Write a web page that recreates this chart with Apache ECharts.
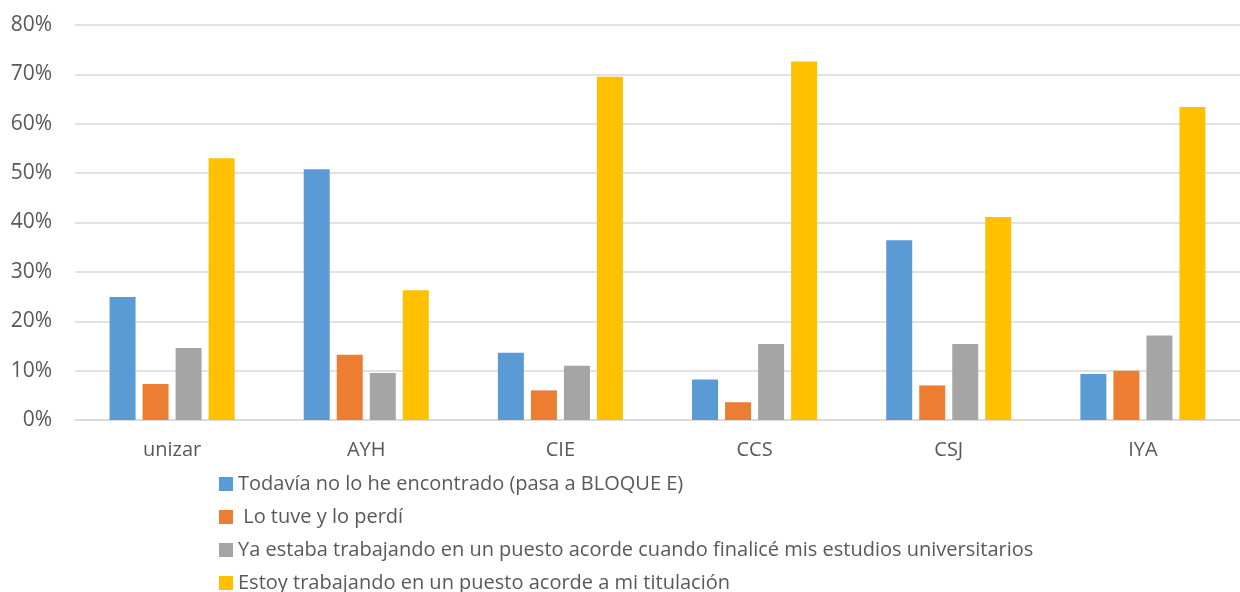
<!DOCTYPE html>
<html>
<head>
<meta charset="utf-8">
<script src="https://cdn.jsdelivr.net/npm/echarts@6/dist/echarts.min.js"></script>
<style>
  html, body { margin: 0; padding: 0; background: #fff; }
  #chart { width: 1240px; height: 592px; }
</style>
</head>
<body>
<div id="chart"></div>
<script>
  // categorías (centros)
  const categories = ['unizar', 'AYH', 'CIE', 'CCS', 'CSJ', 'IYA'];
  const yTicks = [0, 10, 20, 30, 40, 50, 60, 70, 80];

  // valores en %
  const todaviaNo = [24.9, 50.8, 13.6, 8.2, 36.4, 9.3];
  const loTuve = [7.3, 13.2, 6.0, 3.6, 7.0, 10.0];
  const yaEstaba = [14.6, 9.5, 11.0, 15.4, 15.4, 17.1];
  const estoyTrabajando = [53.0, 26.3, 69.5, 72.6, 41.1, 63.4];

  const seriesNames = [
    'Todavía no lo he encontrado (pasa a BLOQUE E)',
    ' Lo tuve y lo perdí',
    'Ya estaba trabajando en un puesto acorde cuando finalicé mis estudios universitarios',
    'Estoy trabajando en un puesto acorde a mi titulación'
  ];
  const seriesData = [todaviaNo, loTuve, yaEstaba, estoyTrabajando];
  const colors = ['#5b9bd5', '#ed7d31', '#a5a5a5', '#ffc000'];

  const txt = '#595959';
  const font = '"Open Sans", "DejaVu Sans", sans-serif';

  let series = [];
  seriesData.forEach((d, i) => {
    series.push({
      name: seriesNames[i],
      type: 'bar',
      data: d,
      barWidth: 26,
      barGap: '27%',
      itemStyle: { color: colors[i] }
    });
  });

  const myChart = echarts.init(document.getElementById('chart'));
  myChart.setOption({
    animation: false,
    color: colors,
    textStyle: { fontFamily: font },
    grid: { left: 75, right: 0, top: 25, bottom: 172 },
    legend: {
      orient: 'vertical',
      left: 219,
      top: 472,
      height: 130,
      itemWidth: 14,
      itemHeight: 14,
      itemGap: 9,
      icon: 'rect',
      selectedMode: false,
      padding: 0,
      textStyle: { color: txt, fontSize: 20, fontFamily: font, lineHeight: 24 },
      data: seriesNames
    },
    xAxis: {
      type: 'category',
      data: categories,
      axisLine: { lineStyle: { color: '#d9d9d9', width: 1.5 } },
      axisTick: { show: false },
      axisLabel: { color: txt, fontSize: 20, margin: 20, fontFamily: font }
    },
    yAxis: {
      type: 'value',
      min: yTicks[0],
      max: yTicks[yTicks.length - 1],
      interval: 10,
      axisLine: { show: false },
      axisTick: { show: false },
      splitLine: { lineStyle: { color: '#d9d9d9', width: 1.5 } },
      axisLabel: { color: txt, fontSize: 21, margin: 23, formatter: '{value}%', fontFamily: font }
    },
    series: series
  });
</script>
</body>
</html>
